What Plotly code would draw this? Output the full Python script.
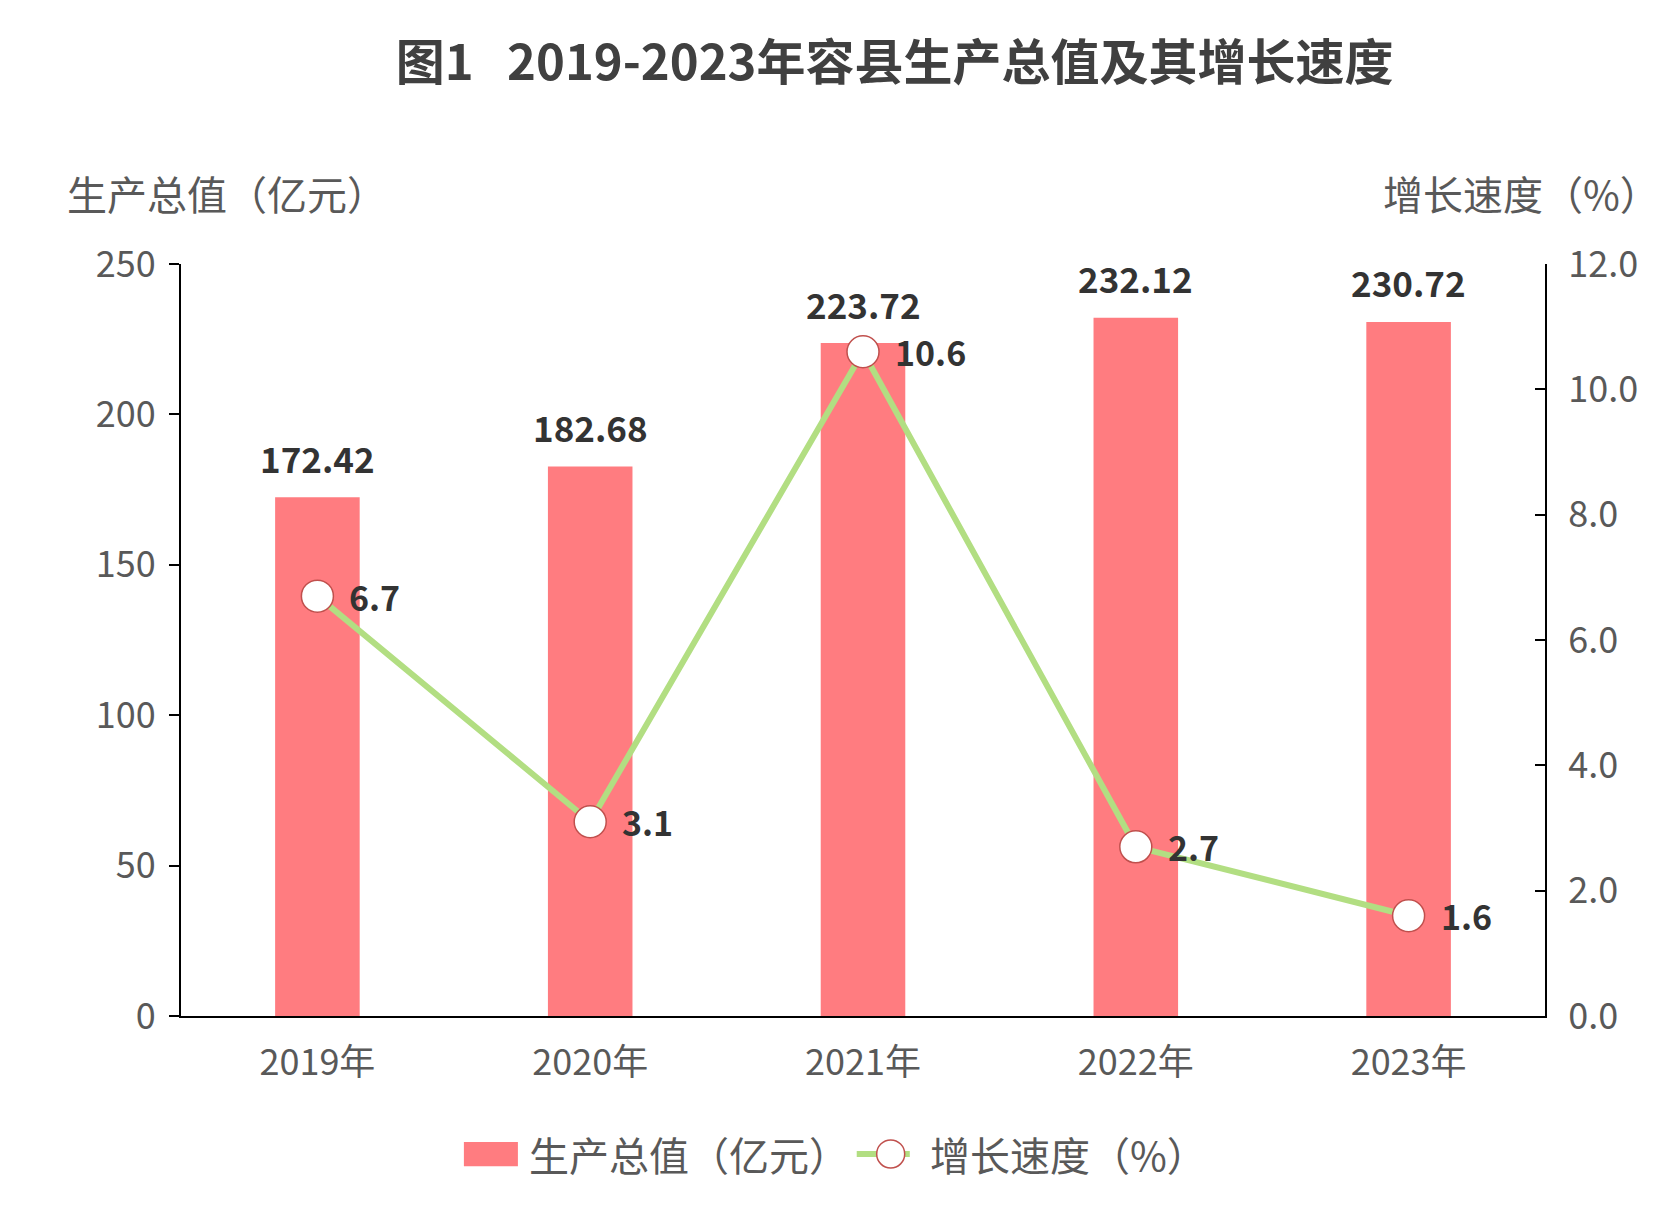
import plotly.graph_objects as go

# Chart data
years = ["2019年", "2020年", "2021年", "2022年", "2023年"]
gdp = [172.42, 182.68, 223.72, 232.12, 230.72]
growth = [6.7, 3.1, 10.6, 2.7, 1.6]

bar_name = "生产总值（亿元）"
line_name = "增长速度（%）"

font_family = "Noto Sans CJK SC, Noto Sans, sans-serif"
text_grey = "#595959"
dark = "#333333"
bar_color = "#FF7C80"
line_color = "#B2DE82"
marker_edge = "#C0504D"

fig = go.Figure()

# Bars: 生产总值
fig.add_trace(go.Bar(
    x=years, y=gdp, name=bar_name,
    marker=dict(color=bar_color, line=dict(width=0)),
    width=0.31, showlegend=False,
))

# Line: 增长速度
fig.add_trace(go.Scatter(
    x=years, y=growth, name=line_name, yaxis="y2",
    mode="lines+markers",
    line=dict(color=line_color, width=6),
    marker=dict(size=32, color="white", line=dict(color=marker_edge, width=1.5)),
    cliponaxis=False, showlegend=False,
))

annotations = []
# value labels above the bars
for yr, v in zip(years, gdp):
    annotations.append(dict(
        x=yr, y=v, xref="x", yref="y", text=f"<b>{v:.2f}</b>",
        showarrow=False, xanchor="center", yanchor="middle", yshift=40,
        font=dict(size=35, color=dark),
    ))
# value labels right of the markers
for yr, v in zip(years, growth):
    annotations.append(dict(
        x=yr, y=v, xref="x", yref="y2", text=f"<b>{v:.1f}</b>",
        showarrow=False, xanchor="left", yanchor="middle", xshift=30,
        font=dict(size=34, color=dark),
    ))

# axis titles
annotations += [
    dict(text=bar_name, xref="paper", yref="paper", x=-0.085, y=1.095,
         xanchor="left", yanchor="middle", showarrow=False,
         font=dict(size=40, color=text_grey)),
    dict(text=line_name, xref="paper", yref="paper", x=1.0855, y=1.095,
         xanchor="right", yanchor="middle", showarrow=False,
         font=dict(size=40, color=text_grey)),
]

# hand-made legend (wide swatch like the original)
legend_y = -0.1835
annotations += [
    dict(text=bar_name, xref="paper", yref="paper", x=0.254, y=legend_y,
         xanchor="left", yanchor="middle", showarrow=False,
         font=dict(size=40, color=text_grey)),
    dict(text=line_name, xref="paper", yref="paper", x=0.5475, y=legend_y,
         xanchor="left", yanchor="middle", showarrow=False,
         font=dict(size=40, color=text_grey)),
]
shapes = [
    dict(type="rect", xref="paper", yref="paper", x0=0.2074, x1=0.2470,
         y0=-0.1999, y1=-0.1674, fillcolor=bar_color, line=dict(width=0)),
    dict(type="line", xref="paper", yref="paper", x0=0.4954, x1=0.5343,
         y0=legend_y, y1=legend_y, line=dict(color=line_color, width=6)),
    dict(type="circle", xref="paper", yref="paper",
         xsizemode="pixel", xanchor=0.5203, x0=-14, x1=14,
         ysizemode="pixel", yanchor=legend_y, y0=-14, y1=14,
         fillcolor="white", line=dict(color=marker_edge, width=1.5)),
]

fig.update_layout(
    width=1662, height=1209,
    paper_bgcolor="white", plot_bgcolor="white",
    margin=dict(l=173, r=125, t=256, b=201),
    font=dict(family=font_family, color=text_grey, size=32),
    title=dict(
        text="<b>图1&nbsp;&nbsp;&nbsp;2019-2023年容县生产总值及其增长速度</b>",
        x=0.5335, xanchor="center", y=0.9545, yanchor="middle",
        font=dict(size=49, color="#404040", family=font_family),
    ),
    bargap=0.69,
    showlegend=False,
    xaxis=dict(
        showline=True, linecolor="#000000", linewidth=2,
        ticks="", tickfont=dict(size=36, color=text_grey),
        ticklabelstandoff=14, showgrid=False,
    ),
    yaxis=dict(
        range=[0, 250], dtick=50, showgrid=False,
        showline=True, linecolor="#000000", linewidth=2,
        ticks="outside", ticklen=10, tickcolor="#000000", tickwidth=2,
        tickfont=dict(size=36, color=text_grey), zeroline=False,
        ticklabelstandoff=6,
    ),
    yaxis2=dict(
        range=[0, 12], dtick=2, tickformat=".1f", overlaying="y", side="right",
        showgrid=False, showline=True, linecolor="#000000", linewidth=2,
        ticks="inside", ticklen=10, tickcolor="#000000", tickwidth=2,
        tickfont=dict(size=36, color=text_grey), zeroline=False,
        ticklabelstandoff=14,
    ),
    annotations=annotations,
    shapes=shapes,
)

fig.write_html("out.html")
